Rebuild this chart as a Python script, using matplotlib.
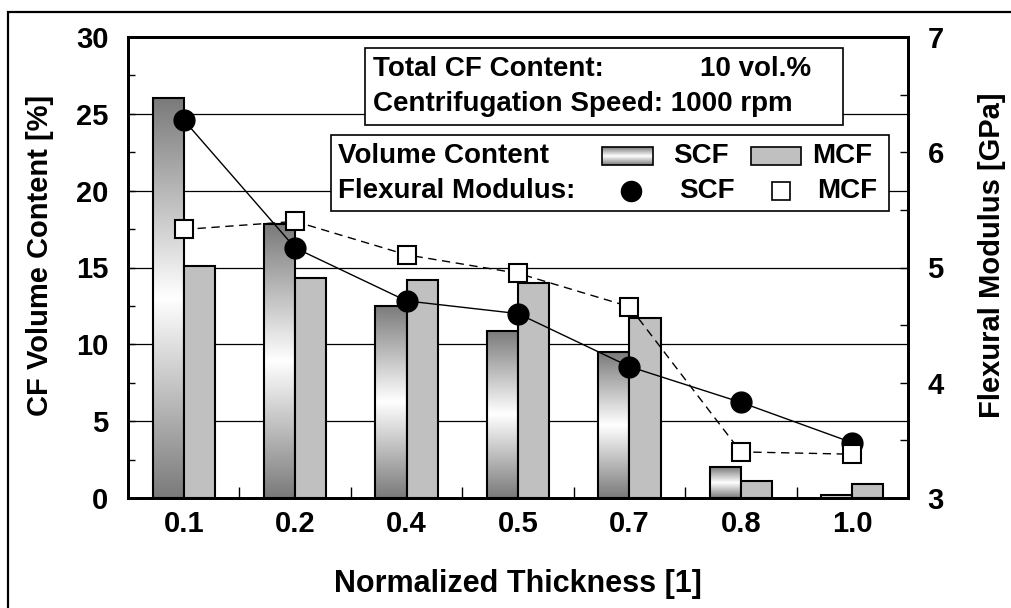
import matplotlib
matplotlib.use('Agg')
import matplotlib.pyplot as plt
import numpy as np
from matplotlib.patches import Rectangle
from matplotlib.colors import LinearSegmentedColormap
from matplotlib.ticker import MultipleLocator, FixedLocator

plt.rcParams['font.family'] = ['Liberation Sans', 'DejaVu Sans']
plt.rcParams['font.weight'] = 'bold'

# data
thickness = ["0.1", "0.2", "0.4", "0.5", "0.7", "0.8", "1.0"]
vol_scf = [26.0, 17.8, 12.5, 10.9, 9.5, 2.0, 0.2]
vol_mcf = [15.1, 14.3, 14.2, 14.0, 11.7, 1.1, 0.9]
mod_scf = [6.28, 5.17, 4.71, 4.60, 4.14, 3.83, 3.48]
mod_mcf = [5.33, 5.40, 5.11, 4.95, 4.66, 3.40, 3.38]

x = np.arange(len(thickness))
bw = 0.28
fs = 20  # legend text size

# gray -> white -> gray gradient for the SCF bars
grad_cmap = LinearSegmentedColormap.from_list("scf", ["#7a7a7a", "#ffffff", "#7a7a7a"])
grad = np.linspace(0, 1, 256).reshape(-1, 1)

fig = plt.figure(figsize=(10.12, 6.08), dpi=100)
ax = fig.add_axes([128/1012, 1-498/608, 780/1012, 461/608])

# outer frame around the whole chart
fig.patches.append(Rectangle((8/1012, -0.2), 1.2, 1.2 - 12/608, transform=fig.transFigure,
                             fill=False, edgecolor="black", linewidth=1.6))

scf_bars = ax.bar(x - bw/2, vol_scf, bw, facecolor="none", edgecolor="black", linewidth=1.5, zorder=3)
for b in scf_bars:
    x0, w, h = b.get_x(), b.get_width(), b.get_height()
    im = ax.imshow(grad, cmap=grad_cmap, extent=(x0, x0 + w, 0, h), aspect="auto",
                   origin="lower", zorder=2.5, interpolation="bilinear")
    im.set_clip_path(b)
ax.bar(x + bw/2, vol_mcf, bw, color="#c0c0c0", edgecolor="black", linewidth=1.5, zorder=3)

ax.set_xlim(-0.5, len(x) - 0.5)
ax.set_ylim(0, 30)
ax.set_aspect("auto")
ax.yaxis.set_major_locator(MultipleLocator(5))
ax.yaxis.set_minor_locator(MultipleLocator(2.5))
ax.yaxis.grid(True, which="major", color="black", linewidth=0.9)
ax.set_axisbelow(True)
ax.set_xticks(x)
ax.set_xticklabels(thickness)
ax.xaxis.set_minor_locator(FixedLocator(x[:-1] + 0.5))
ax.tick_params(axis="x", which="major", length=0, pad=9, labelsize=21)
ax.tick_params(axis="x", which="minor", direction="in", length=8, width=1)
ax.tick_params(axis="y", which="both", direction="in", length=5, width=1, pad=14, labelsize=21)
for s in ax.spines.values():
    s.set_linewidth(2)
ax.set_xlabel("Normalized Thickness [1]", fontsize=22, fontweight="bold", labelpad=22)
ax.set_ylabel("CF Volume Content [%]", fontsize=21, fontweight="bold")
ax.yaxis.set_label_coords(-0.095, 0.527)

ax2 = ax.twinx()
ax2.plot(x, mod_scf, color="black", linewidth=1, marker="o", markersize=15,
         markerfacecolor="black", zorder=4)
ax2.plot(x, mod_mcf, color="black", linewidth=1, linestyle=(0, (6, 4)), marker="s", markersize=13,
         markerfacecolor="white", markeredgecolor="black", markeredgewidth=1.5, zorder=5)
ax2.set_ylim(3, 7)
ax2.yaxis.set_major_locator(MultipleLocator(1))
ax2.yaxis.set_minor_locator(MultipleLocator(0.5))
ax2.tick_params(axis="y", which="both", direction="in", length=6, width=1, pad=14, labelsize=21)
for s in ax2.spines.values():
    s.set_linewidth(2)
ax2.set_ylabel("Flexural Modulus [GPa]", fontsize=21, fontweight="bold")
ax2.yaxis.set_label_coords(1.090, 0.527)

# info box
ax2.add_patch(Rectangle((0.304, 0.809), 0.613, 0.167, transform=ax2.transAxes,
                        facecolor="white", edgecolor="black", linewidth=1.2, zorder=10))
ax2.text(0.314, 0.931, "Total CF Content:", transform=ax2.transAxes, fontsize=fs,
         va="center", ha="left", zorder=11)
ax2.text(0.733, 0.931, "10 vol.%", transform=ax2.transAxes, fontsize=fs,
         va="center", ha="left", zorder=11)
ax2.text(0.314, 0.855, "Centrifugation Speed: 1000 rpm", transform=ax2.transAxes, fontsize=fs,
         va="center", ha="left", zorder=11)

# legend box
ax2.add_patch(Rectangle((0.26, 0.623), 0.716, 0.164, transform=ax2.transAxes,
                        facecolor="white", edgecolor="black", linewidth=1.2, zorder=10))
ax2.text(0.269, 0.742, "Volume Content", transform=ax2.transAxes, fontsize=fs,
         va="center", ha="left", zorder=11)
ax2.text(0.269, 0.666, "Flexural Modulus:", transform=ax2.transAxes, fontsize=fs,
         va="center", ha="left", zorder=11)
ax2.imshow(grad, cmap=grad_cmap, extent=(0.608, 0.673, 0.722, 0.761), aspect="auto",
           origin="lower", transform=ax2.transAxes, zorder=11)
ax2.add_patch(Rectangle((0.608, 0.722), 0.065, 0.039, transform=ax2.transAxes,
                        fill=False, edgecolor="black", linewidth=1.2, zorder=12))
ax2.add_patch(Rectangle((0.799, 0.722), 0.064, 0.039, transform=ax2.transAxes,
                        facecolor="#c0c0c0", edgecolor="black", linewidth=1.2, zorder=12))
ax2.text(0.735, 0.742, "SCF", transform=ax2.transAxes, fontsize=fs, va="center", ha="center", zorder=11)
ax2.text(0.916, 0.742, "MCF", transform=ax2.transAxes, fontsize=fs, va="center", ha="center", zorder=11)
ax2.plot([0.645], [0.666], transform=ax2.transAxes, marker="o", markersize=14.5, color="black",
         linestyle="none", zorder=12)
ax2.plot([0.837], [0.666], transform=ax2.transAxes, marker="s", markersize=12.5, markerfacecolor="white",
         markeredgecolor="black", markeredgewidth=1.2, linestyle="none", zorder=12)
ax2.text(0.742, 0.666, "SCF", transform=ax2.transAxes, fontsize=fs, va="center", ha="center", zorder=11)
ax2.text(0.922, 0.666, "MCF", transform=ax2.transAxes, fontsize=fs, va="center", ha="center", zorder=11)
ax2.set_xlim(-0.5, len(x) - 0.5)
ax2.set_ylim(3, 7)

fig.savefig("out.png", dpi=100)
